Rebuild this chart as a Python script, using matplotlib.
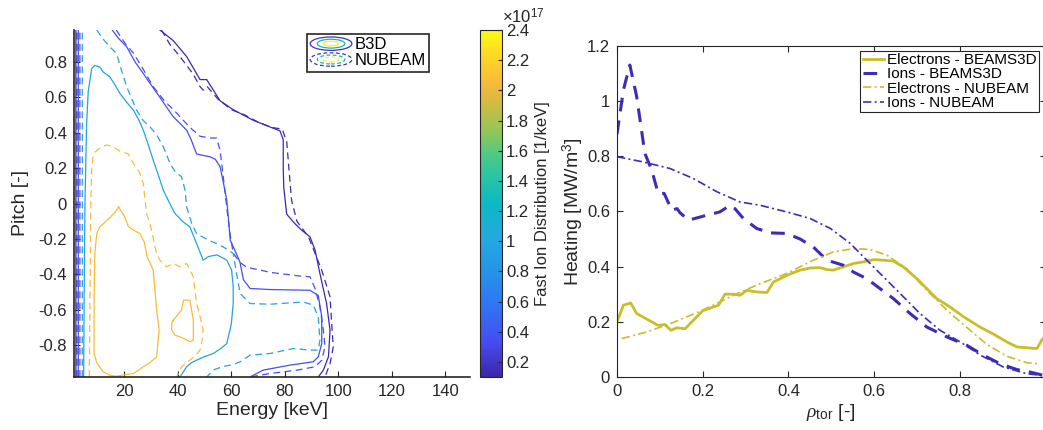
import numpy as np
import matplotlib
matplotlib.use('Agg')
import matplotlib.pyplot as plt
from matplotlib.colors import LinearSegmentedColormap, Normalize
from matplotlib.legend_handler import HandlerBase
from matplotlib.patches import Ellipse
from matplotlib.cm import ScalarMappable

nan = np.nan

# ---------------- left panel: contour lines (values in 1e17 /keV) ----------------
contour_levels = [0.12, 0.35, 0.95, 2.05]

b3d_l1_E = [1.9, 1.9, nan, 33.3, 38.3, 43.3, 48.3, 50.8, 55.8, 60.7, 68.2, 73.2, 78.2, 79.4, 79.4, 79.6,
            80.7, 83.5, 86.3, 89.4, 91.3, 93.1, 95.6, 96.9, 96.3, 94.4, 92.5]
b3d_l1_p = [-0.98, 0.98, nan, 0.98, 0.92, 0.83, 0.70, 0.70, 0.58, 0.53, 0.47, 0.44, 0.41, 0.36, 0.20, 0.09,
            -0.06, -0.11, -0.151, -0.188, -0.264, -0.395, -0.565, -0.716, -0.866, -0.941, -0.98]

nub_l1_E = [2.3, 2.3, nan, 33.9, 37.0, 40.8, 45.8, 48.3, 49.5, 51.0, 55.0, 60.0, 65.0, 70.0, 75.0, 79.0,
            80.7, 81.5, 82.5, 84.5, 88.8, 91.3, 93.8, 96.9, 97.5, 98.1, 96.9, 95.0]
nub_l1_p = [-0.98, 0.98, nan, 0.98, 0.90, 0.83, 0.73, 0.66, 0.64, 0.66, 0.59, 0.53, 0.50, 0.46, 0.43, 0.42,
            0.35, 0.20, 0.02, -0.10, -0.188, -0.282, -0.377, -0.527, -0.678, -0.81, -0.904, -0.98]

b3d_l2_E = [2.8, 2.8, nan, 15.5, 18.0, 20.9, 24.0, 27.1, 30.0, 33.3, 36.0, 38.3, 41.0, 43.3, 45.0, 47.0,
            50.0, 52.0, 54.0, 55.8, 57.0, 58.3, 59.0, 59.6, 61.5, 63.2, 64.5, 67.0, 74.5, 89.4, 92.5, 93.8,
            93.8, 92.5, 90.6, 81.9, 71.9, 67.0]
b3d_l2_p = [-0.98, 0.98, nan, 0.98, 0.93, 0.885, 0.80, 0.734, 0.67, 0.60, 0.54, 0.49, 0.45, 0.414, 0.36, 0.28,
            0.27, 0.264, 0.25, 0.207, 0.12, 0.019, -0.10, -0.208, -0.27, -0.33, -0.43, -0.48, -0.486, -0.49,
            -0.52, -0.64, -0.79, -0.866, -0.894, -0.913, -0.941, -0.98]

nub_l2_E = [3.4, 3.4, nan, 17.0, 20.5, 23.4, 27.0, 30.8, 35.0, 39.6, 44.5, 48.3, 52.0, 54.5, 55.8, 57.0,
            58.5, 59.5, 60.7, 63.0, 65.7, 75.0, 85.7, 89.4, 91.3, 93.1, 94.4, 95.0, 93.8, 91.3, 84.7, 74.5, 67.0]
nub_l2_p = [-0.98, 0.98, nan, 0.98, 0.90, 0.85, 0.76, 0.66, 0.58, 0.51, 0.43, 0.38, 0.37, 0.37, 0.30, 0.15,
            -0.05, -0.17, -0.28, -0.33, -0.36, -0.39, -0.41, -0.414, -0.48, -0.584, -0.716, -0.81, -0.885,
            -0.922, -0.941, -0.96, -0.98]

b3d_l3_E = [4.8, 5.0, 5.3, 5.9, 6.5, 7.8, 9.0, 10.9, 12.1, 14.6, 16.5, 18.4, 21.0, 23.4, 25.5, 27.1, 29.0,
            30.8, 32.5, 34.6, 37.0, 38.9, 42.0, 44.5, 47.0, 49.5, 51.4, 54.6, 58.3, 60.1, 60.7, 60.7, 60.0,
            58.3, 56.0, 53.3, 50.0, 47.0, 45.0, 43.3, 40.8]
b3d_l3_p = [-0.98, -0.5, 0.0, 0.44, 0.63, 0.762, 0.78, 0.77, 0.743, 0.715, 0.67, 0.621, 0.57, 0.527, 0.47,
            0.414, 0.33, 0.245, 0.17, 0.075, 0.0, -0.056, -0.104, -0.132, -0.226, -0.32, -0.30, -0.29, -0.32,
            -0.376, -0.47, -0.565, -0.68, -0.791, -0.82, -0.847, -0.865, -0.885, -0.9, -0.922, -0.98]

nub_l3_E = [4.3, 4.3, nan, 9.7, 12.0, 14.6, 17.1, 19.0, 20.9, 24.6, 27.0, 29.6, 32.0, 34.6, 37.1, 39.0,
            41.4, 42.7, 43.3, 45.2, 47.0, 51.4, 54.5, 57.5, 60.7, 62.0, 63.3, 67.0, 74.5, 86.9, 90.6, 92.5,
            93.1, 92.5, 89.4, 83.2, 74.5, 67.0, 63.3, 60.7, 57.0, 53.3, 50.8]
nub_l3_p = [-0.98, 0.98, nan, 0.98, 0.93, 0.885, 0.847, 0.75, 0.659, 0.527, 0.47, 0.433, 0.39, 0.32, 0.226,
            0.18, 0.151, 0.075, -0.019, -0.113, -0.17, -0.207, -0.226, -0.25, -0.282, -0.40, -0.508, -0.565,
            -0.569, -0.556, -0.574, -0.64, -0.772, -0.828, -0.828, -0.819, -0.847, -0.857, -0.894, -0.91,
            -0.92, -0.94, -0.98]

b3d_l4_E = [17.9, 20.0, 21.5, 23.4, 25.9, 27.5, 28.5, 30.8, 31.5, 32.1, 33.0, 32.5, 32.1, 29.5, 27.1, 25.0,
            23.4, 20.0, 17.0, 14.6, 12.1, 9.7, 8.7, 8.7, 9.0, 9.7, 10.9, 12.5, 14.6, 16.5, 17.9,
            nan, 38.3, 41.4, 42.1, 44.5, 45.8, 45.8, 44.5, 42.1, 40.8, 39.0, 37.7, 37.7, 38.3]
b3d_l4_p = [-0.02, -0.07, -0.13, -0.15, -0.17, -0.22, -0.30, -0.376, -0.50, -0.602, -0.715, -0.80, -0.866,
            -0.90, -0.922, -0.945, -0.96, -0.968, -0.975, -0.97, -0.95, -0.90, -0.845, -0.546, -0.28, -0.17,
            -0.13, -0.11, -0.08, -0.05, -0.02,
            nan, -0.659, -0.602, -0.546, -0.546, -0.659, -0.772, -0.781, -0.762, -0.753, -0.744, -0.715,
            -0.678, -0.659]

nub_l4_E = [6.9, 7.2, 7.5, 7.8, 8.3, 9.0, 11.5, 13.4, 15.3, 18.4, 21.5, 23.4, 25.9, 27.1, 27.7, 28.3, 29.5,
            30.2, 32.0, 33.3, 35.8, 38.3, 40.8, 43.3, 45.8, 46.5, 47.0, 48.5, 49.5, 49.0, 48.3, 46.5, 44.5,
            41.4, 40.5, 39.6]
nub_l4_p = [-0.98, -0.5, 0.0, 0.2, 0.26, 0.29, 0.32, 0.33, 0.325, 0.295, 0.28, 0.226, 0.169, 0.113, 0.03,
            -0.056, -0.11, -0.151, -0.28, -0.32, -0.358, -0.339, -0.358, -0.339, -0.414, -0.50, -0.565, -0.65,
            -0.715, -0.78, -0.828, -0.86, -0.885, -0.922, -0.95, -0.98]

cbar_ticks = [0.2, 0.4, 0.6, 0.8, 1.0, 1.2, 1.4, 1.6, 1.8, 2.0, 2.2, 2.4]
energy_ticks = [20, 40, 60, 80, 100, 120, 140]
pitch_ticks = [-0.8, -0.6, -0.4, -0.2, 0, 0.2, 0.4, 0.6, 0.8]

# ---------------- right panel: heating profiles ----------------
rho_e_b3d = [0, 0.015, 0.032, 0.046, 0.069, 0.096, 0.112, 0.126, 0.139, 0.159, 0.178, 0.2, 0.237, 0.252,
             0.272, 0.287, 0.303, 0.326, 0.35, 0.365, 0.396, 0.427, 0.451, 0.474, 0.49, 0.505, 0.528, 0.552,
             0.575, 0.598, 0.622, 0.645, 0.668, 0.7, 0.723, 0.746, 0.777, 0.809, 0.847, 0.879, 0.91, 0.933,
             0.956, 0.98, 0.991, 1.0]
heat_e_b3d = [0.20, 0.26, 0.268, 0.23, 0.21, 0.187, 0.19, 0.169, 0.178, 0.175, 0.205, 0.24, 0.26, 0.30,
              0.30, 0.296, 0.314, 0.308, 0.306, 0.344, 0.368, 0.387, 0.395, 0.396, 0.389, 0.387, 0.399, 0.411,
              0.417, 0.425, 0.423, 0.42, 0.399, 0.356, 0.32, 0.284, 0.254, 0.218, 0.181, 0.155, 0.127, 0.109,
              0.106, 0.103, 0.133, 0.15]

rho_i_b3d = [0, 0.015, 0.03, 0.046, 0.065, 0.081, 0.096, 0.11, 0.128, 0.14, 0.147, 0.167, 0.2, 0.24, 0.264,
             0.275, 0.295, 0.326, 0.357, 0.396, 0.427, 0.458, 0.49, 0.528, 0.552, 0.583, 0.614, 0.645, 0.684,
             0.723, 0.77, 0.816, 0.855, 0.894, 0.933, 0.964, 1.0]
heat_i_b3d = [0.88, 1.04, 1.13, 1.015, 0.81, 0.75, 0.665, 0.665, 0.604, 0.61, 0.595, 0.568, 0.582, 0.598,
              0.622, 0.61, 0.574, 0.538, 0.522, 0.52, 0.5, 0.471, 0.423, 0.405, 0.38, 0.356, 0.32, 0.284,
              0.23, 0.181, 0.145, 0.115, 0.079, 0.048, 0.027, 0.018, 0.004]

rho_e_nb = [0.011, 0.069, 0.124, 0.2, 0.28, 0.334, 0.396, 0.458, 0.505, 0.552, 0.591, 0.63, 0.676, 0.723,
            0.77, 0.816, 0.863, 0.91, 0.956, 0.988]
heat_e_nb = [0.139, 0.163, 0.193, 0.242, 0.302, 0.338, 0.375, 0.423, 0.453, 0.465, 0.462, 0.441, 0.393,
             0.314, 0.242, 0.18, 0.118, 0.075, 0.052, 0.047]

rho_i_nb = [0, 0.061, 0.124, 0.178, 0.233, 0.287, 0.334, 0.396, 0.451, 0.498, 0.545, 0.583, 0.614, 0.661,
            0.707, 0.754, 0.801, 0.848, 0.902, 0.956, 1.0]
heat_i_nb = [0.798, 0.779, 0.755, 0.719, 0.671, 0.634, 0.622, 0.598, 0.574, 0.538, 0.483, 0.423, 0.375,
             0.302, 0.23, 0.169, 0.127, 0.079, 0.036, 0.012, 0.004]

heat_labels = ['Electrons - BEAMS3D', 'Ions - BEAMS3D', 'Electrons - NUBEAM', 'Ions - NUBEAM']
rho_ticks = [0, 0.2, 0.4, 0.6, 0.8]
heat_ticks = [0, 0.2, 0.4, 0.6, 0.8, 1.0, 1.2]

# ---------------- styling ----------------
plt.rcParams['font.family'] = ['Liberation Sans', 'DejaVu Sans']
plt.rcParams['axes.unicode_minus'] = False
plt.rcParams['mathtext.fontset'] = 'custom'
plt.rcParams['mathtext.rm'] = 'Liberation Sans'
plt.rcParams['mathtext.it'] = 'Liberation Serif:italic'
plt.rcParams['mathtext.bf'] = 'Liberation Sans:bold'

AX = '#262626'
parula_pts = [(0.0, (0.2422, 0.1504, 0.6603)), (0.1, (0.275, 0.30, 0.94)), (0.2, (0.19, 0.45, 0.96)),
              (0.3, (0.14, 0.58, 0.91)), (0.4, (0.14, 0.66, 0.88)), (0.5, (0.05, 0.72, 0.77)),
              (0.6, (0.20, 0.78, 0.60)), (0.65, (0.33, 0.79, 0.50)), (0.7, (0.55, 0.78, 0.35)),
              (0.8, (0.85, 0.73, 0.25)), (0.85, (0.98, 0.73, 0.23)), (0.9, (0.99, 0.80, 0.17)),
              (1.0, (0.9769, 0.9839, 0.0805))]
cmap = LinearSegmentedColormap.from_list('parula_like', parula_pts)
norm = Normalize(0.1, 2.4)

fig = plt.figure(figsize=(10.43, 4.30), dpi=100)
ax1 = fig.add_axes([74 / 1043, 53 / 430, 396 / 1043, 347 / 430])
cax = fig.add_axes([480 / 1043, 53 / 430, 22 / 1043, 347 / 430])
ax2 = fig.add_axes([617 / 1043, 53 / 430, 428.5 / 1043, 331.3 / 430])

b3d_lines = [(b3d_l1_E, b3d_l1_p), (b3d_l2_E, b3d_l2_p), (b3d_l3_E, b3d_l3_p), (b3d_l4_E, b3d_l4_p)]
nub_lines = [(nub_l1_E, nub_l1_p), (nub_l2_E, nub_l2_p), (nub_l3_E, nub_l3_p), (nub_l4_E, nub_l4_p)]
for lev, (E, p) in zip(contour_levels, b3d_lines):
    ax1.plot(E, p, color=cmap(norm(lev)), lw=0.9)
for lev, (E, p) in zip(contour_levels, nub_lines):
    ax1.plot(E, p, color=cmap(norm(lev)), lw=0.9, dashes=(5.5, 3.5))

ax1.set_xlim(1.2, 149.2)
ax1.set_ylim(-0.98, 0.98)
ax1.set_xticks(energy_ticks)
ax1.set_yticks(pitch_ticks)
ax1.set_yticklabels(['%g' % v for v in pitch_ticks])
for s in ['top', 'right']:
    ax1.spines[s].set_visible(False)
for s in ['left', 'bottom']:
    ax1.spines[s].set_color(AX)
    ax1.spines[s].set_linewidth(1.2)
ax1.tick_params(direction='in', length=4, width=0.8, labelsize=12, colors=AX, pad=5)
ax1.set_xlabel('Energy [keV]', fontsize=14, color=AX, labelpad=2)
ax1.set_ylabel('Pitch [-]', fontsize=14, color=AX, labelpad=7)


class EllipseIcon:
    def __init__(self, dashed):
        self.dashed = dashed


class HandlerEllipses(HandlerBase):
    def create_artists(self, legend, orig, xd, yd, width, height, fontsize, trans):
        cx, cy = width / 2 - xd, height / 2 - yd
        arts = []
        for frac, col in zip([1.0, 0.66, 0.36], [cmap(0.03), cmap(0.5), cmap(0.97)]):
            e = Ellipse((cx, cy), width * frac, height * 1.15 * frac, fill=False, edgecolor=col, lw=0.9,
                        linestyle=(0, (3, 2)) if orig.dashed else '-', transform=trans)
            arts.append(e)
        return arts


leg1 = ax1.legend([EllipseIcon(False), EllipseIcon(True)], ['B3D', 'NUBEAM'],
                  handler_map={EllipseIcon: HandlerEllipses()}, loc='upper left',
                  bbox_to_anchor=(0.588, 0.988), fontsize=12, fancybox=False, edgecolor=AX,
                  handlelength=2.5, handleheight=0.7, handletextpad=0.15, borderpad=0.2,
                  labelspacing=0.05, borderaxespad=0, framealpha=1)
leg1.get_frame().set_linewidth(1.2)

sm = ScalarMappable(norm=norm, cmap=cmap)
cb = fig.colorbar(sm, cax=cax)
cb.set_ticks(cbar_ticks)
cb.set_ticklabels(['%g' % v for v in cbar_ticks])
cb.outline.set_edgecolor(AX)
cb.outline.set_linewidth(0.8)
cax.tick_params(direction='in', length=3, width=0.8, labelsize=12, colors=AX, pad=3)
cax.set_ylabel('Fast Ion Distribution [1/keV]', fontsize=12, color=AX, labelpad=4)
fig.text(502 / 1043, (430 - 23) / 430, '×10$^{17}$', fontsize=12, color=AX, ha='left', va='baseline')

# right panel
col_e = '#c9be2a'
col_i = '#3d2db5'
l1, = ax2.plot(rho_e_b3d, heat_e_b3d, color=col_e, lw=2.0)
l2, = ax2.plot(rho_i_b3d, heat_i_b3d, color=col_i, lw=2.2, dashes=(4.5, 3))
l3, = ax2.plot(rho_e_nb, heat_e_nb, color=col_e, lw=1.2, dashes=(5, 2, 1.2, 2))
l4, = ax2.plot(rho_i_nb, heat_i_nb, color=col_i, lw=1.2, dashes=(5, 2, 1.2, 2))
ax2.set_xlim(0, 1)
ax2.set_ylim(0, 1.2)
ax2.set_xticks(rho_ticks)
ax2.set_xticklabels(['%g' % v for v in rho_ticks])
ax2.set_yticks(heat_ticks)
ax2.set_yticklabels(['%g' % v for v in heat_ticks])
for s in ax2.spines.values():
    s.set_color(AX)
    s.set_linewidth(0.8)
ax2.tick_params(direction='in', length=4, width=0.8, labelsize=12, colors=AX, top=True, right=True, pad=5)
ax2.set_xlabel(r'$\rho_{\mathrm{tor}}$ [-]', fontsize=14, color=AX, labelpad=2)
ax2.set_ylabel('Heating [MW/m$^3$]', fontsize=14, color=AX, labelpad=1)
leg2 = ax2.legend([l1, l2, l3, l4], heat_labels, loc='upper right', bbox_to_anchor=(0.985, 0.985),
                  fontsize=11, fancybox=False, edgecolor=AX, handlelength=1.4, handletextpad=0.2,
                  borderpad=0.15, labelspacing=0.02, borderaxespad=0, framealpha=1)
leg2.get_frame().set_linewidth(0.8)

fig.savefig('out.png', dpi=100)
